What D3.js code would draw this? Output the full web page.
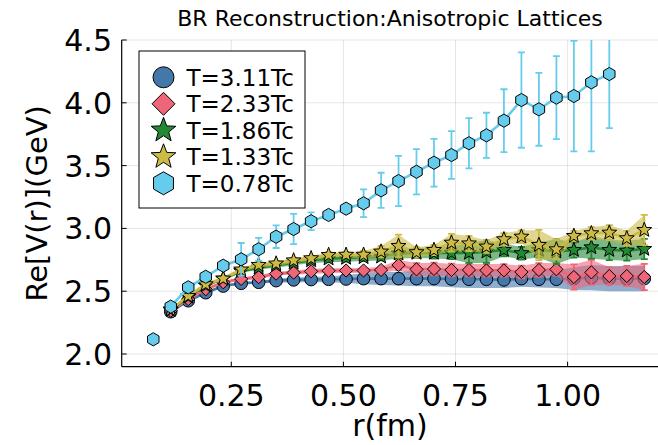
<!DOCTYPE html>
<html>
<head>
<meta charset="utf-8">
<script src="https://cdn.jsdelivr.net/npm/d3@7"></script>
<style>
body { margin: 0; background: #fff; }
text { font-family: "DejaVu Sans", sans-serif; fill: #000; }
</style>
</head>
<body>
<div id="chart"></div>
<script>
// r positions (fm)
const rVals = [0.076, 0.115, 0.154, 0.193, 0.232, 0.272, 0.311, 0.350, 0.389, 0.428,
  0.467, 0.506, 0.545, 0.584, 0.623, 0.663, 0.702, 0.741, 0.780, 0.819,
  0.858, 0.897, 0.936, 0.975, 1.014, 1.053, 1.093, 1.132, 1.171];

// T=3.11Tc (starts at rVals[1])
const v311 = [2.337, 2.424, 2.488, 2.541, 2.563, 2.571, 2.584, 2.590, 2.593, 2.595,
  2.597, 2.600, 2.600, 2.600, 2.600, 2.600, 2.597, 2.595, 2.595, 2.590,
  2.600, 2.595, 2.595, 2.600, 2.608, 2.600, 2.600, 2.600];
const e311 = [0.01, 0.01, 0.01, 0.01, 0.01, 0.01, 0.015, 0.02, 0.02, 0.025,
  0.03, 0.045, 0.05, 0.055, 0.06, 0.06, 0.065, 0.07, 0.07, 0.065,
  0.065, 0.065, 0.07, 0.09, 0.10, 0.10, 0.10, 0.10];

// T=2.33Tc
const v233 = [2.345, 2.437, 2.515, 2.571, 2.598, 2.612, 2.640, 2.648, 2.658, 2.663,
  2.665, 2.665, 2.669, 2.708, 2.674, 2.677, 2.669, 2.669, 2.666, 2.666,
  2.653, 2.669, 2.674, 2.613, 2.650, 2.621, 2.621, 2.613];
const e233 = [0.01, 0.01, 0.01, 0.01, 0.01, 0.015, 0.015, 0.015, 0.02, 0.02,
  0.02, 0.02, 0.025, 0.04, 0.05, 0.05, 0.05, 0.05, 0.05, 0.05,
  0.05, 0.055, 0.05, 0.10, 0.10, 0.07, 0.08, 0.105];

// T=1.86Tc
const v186 = [2.350, 2.455, 2.545, 2.600, 2.660, 2.688, 2.707, 2.726, 2.745, 2.760,
  2.765, 2.770, 2.775, 2.800, 2.805, 2.805, 2.805, 2.805, 2.815, 2.828,
  2.802, 2.828, 2.815, 2.828, 2.849, 2.828, 2.823, 2.836];
const e186 = [0.01, 0.01, 0.01, 0.015, 0.015, 0.015, 0.02, 0.02, 0.02, 0.03,
  0.03, 0.03, 0.03, 0.04, 0.04, 0.045, 0.05, 0.08, 0.09, 0.05,
  0.05, 0.06, 0.10, 0.06, 0.09, 0.08, 0.08, 0.08];

// T=1.33Tc
const v133 = [2.355, 2.462, 2.555, 2.600, 2.672, 2.709, 2.720, 2.745, 2.762, 2.788,
  2.790, 2.790, 2.815, 2.860, 2.810, 2.828, 2.886, 2.880, 2.855, 2.913,
  2.934, 2.868, 2.833, 2.940, 2.961, 2.966, 2.921, 2.987];
const e133 = [0.01, 0.01, 0.015, 0.015, 0.015, 0.02, 0.02, 0.02, 0.02, 0.02,
  0.02, 0.03, 0.045, 0.09, 0.04, 0.04, 0.07, 0.06, 0.05, 0.05,
  0.05, 0.12, 0.08, 0.04, 0.05, 0.06, 0.06, 0.12];

// T=0.78Tc (starts at rVals[0]; the first point stands alone)
const v078 = [2.117, 2.377, 2.531, 2.615, 2.703, 2.754, 2.834, 2.934, 2.995, 3.057,
  3.107, 3.157, 3.200, 3.303, 3.377, 3.451, 3.523, 3.584, 3.678, 3.741,
  3.858, 4.022, 3.948, 4.041, 4.054, 4.163, 4.229];
const e078 = [0, 0, 0.02, 0.02, 0.03, 0.13, 0.09, 0.09, 0.12, 0.07,
  0.02, 0.02, 0.11, 0.14, 0.20, 0.18, 0.19, 0.19, 0.20, 0.18,
  0.25, 0.38, 0.29, 0.33, 0.44, 0.55, 0.43];

const xTicks = [0.25, 0.50, 0.75, 1.00];
const yTicks = [2.0, 2.5, 3.0, 3.5, 4.0, 4.5];
const labels = ["T=3.11Tc", "T=2.33Tc", "T=1.86Tc", "T=1.33Tc", "T=0.78Tc"];
const colors = ["#4477AA", "#EE6677", "#228833", "#CCBB44", "#66CCEE"];

const W = 658, H = 445;
const pL = 121.7, pR = 658, pT = 40, pB = 366.7;

const x = d3.scaleLinear().domain([0.0056, 1.2016]).range([pL, pR]);
const y = d3.scaleLinear().domain([1.899, 4.5]).range([pB, pT]);

const svg = d3.select("#chart").append("svg")
  .attr("width", W).attr("height", H);

svg.append("clipPath").attr("id", "clip")
  .append("rect").attr("x", pL).attr("y", pT)
  .attr("width", pR - pL).attr("height", pB - pT);

// marker shapes, radius based
function shapePath(kind, s) {
  if (kind == "circle") {
    return `M${s},0A${s},${s},0,1,1,${-s},0A${s},${s},0,1,1,${s},0Z`;
  }
  if (kind == "diamond") return `M0,${-s}L${s},0L0,${s}L${-s},0Z`;
  let pts = [];
  if (kind == "star") {
    for (let i = 0; i < 10; i++) {
      const a = -Math.PI / 2 + i * Math.PI / 5;
      const rr = i % 2 == 0 ? s : s * 0.42;
      pts.push([rr * Math.cos(a), rr * Math.sin(a)]);
    }
  } else {
    for (let i = 0; i < 6; i++) {
      const a = -Math.PI / 2 + i * Math.PI / 3;
      pts.push([s * Math.cos(a), s * Math.sin(a)]);
    }
  }
  return "M" + pts.map(p => p[0].toFixed(2) + "," + p[1].toFixed(2)).join("L") + "Z";
}

// grid
const grid = svg.append("g");
grid.selectAll(".gx").data(xTicks).join("line")
  .attr("x1", d => x(d)).attr("x2", d => x(d))
  .attr("y1", pT).attr("y2", pB)
  .attr("stroke", "#000").attr("stroke-opacity", 0.1).attr("stroke-width", 1);
grid.selectAll(".gy").data(yTicks).join("line")
  .attr("x1", pL).attr("x2", pR)
  .attr("y1", d => y(d)).attr("y2", d => y(d))
  .attr("stroke", "#000").attr("stroke-opacity", 0.1).attr("stroke-width", 1);

const series = [
  { v: v311, e: e311, off: 1, skip: 0, shape: "circle", size: 6.3, ribbon: true, bars: false },
  { v: v233, e: e233, off: 1, skip: 0, shape: "diamond", size: 6.6, ribbon: true, bars: true },
  { v: v186, e: e186, off: 1, skip: 0, shape: "star", size: 7.8, ribbon: true, bars: true },
  { v: v133, e: e133, off: 1, skip: 0, shape: "star", size: 7.8, ribbon: true, bars: true },
  { v: v078, e: e078, off: 0, skip: 1, shape: "hex", size: 6.6, ribbon: false, bars: true }
];

const plot = svg.append("g").attr("clip-path", "url(#clip)");

series.forEach((s, k) => {
  const pts = s.v.map((v, i) => ({ r: rVals[i + s.off], v: v, e: s.e[i] }));
  const g = plot.append("g");
  const col = colors[k];

  if (s.bars) {
    const eb = g.append("g").attr("stroke", col).attr("stroke-width", 1.8);
    pts.filter(d => d.e > 0.015).forEach(d => {
      eb.append("line").attr("x1", x(d.r)).attr("x2", x(d.r))
        .attr("y1", y(d.v - d.e)).attr("y2", y(d.v + d.e));
      [d.v - d.e, d.v + d.e].forEach(yy => {
        eb.append("line").attr("x1", x(d.r) - 3.5).attr("x2", x(d.r) + 3.5)
          .attr("y1", y(yy)).attr("y2", y(yy));
      });
    });
  }

  if (s.ribbon) {
    g.append("path").datum(pts)
      .attr("d", d3.area().x(d => x(d.r)).y0(d => y(d.v - d.e)).y1(d => y(d.v + d.e)))
      .attr("fill", col).attr("fill-opacity", 0.6);
  }

  g.append("path").datum(pts.slice(s.skip))
    .attr("d", d3.line().x(d => x(d.r)).y(d => y(d.v)))
    .attr("fill", "none").attr("stroke", col).attr("stroke-width", 2.6);

  g.selectAll(".m").data(pts).join("path")
    .attr("transform", d => `translate(${x(d.r)},${y(d.v)})`)
    .attr("d", shapePath(s.shape, s.size))
    .attr("fill", col).attr("stroke", "#000").attr("stroke-width", 1);
});

// axes
const ax = svg.append("g").attr("stroke", "#000");
ax.append("line").attr("x1", pL).attr("x2", pR).attr("y1", pB).attr("y2", pB).attr("stroke-width", 1.2);
ax.append("line").attr("x1", pL).attr("x2", pL).attr("y1", pT).attr("y2", pB).attr("stroke-width", 1.2);
ax.selectAll(".tx").data(xTicks).join("line")
  .attr("x1", d => x(d)).attr("x2", d => x(d)).attr("y1", pB).attr("y2", pB - 5);
ax.selectAll(".ty").data(yTicks).join("line")
  .attr("x1", pL).attr("x2", pL + 5).attr("y1", d => y(d)).attr("y2", d => y(d));

svg.selectAll(".xl").data(xTicks).join("text")
  .attr("x", d => x(d)).attr("y", 406)
  .attr("text-anchor", "middle").attr("font-size", 30)
  .text(d => d.toFixed(2));
svg.selectAll(".yl").data(yTicks).join("text")
  .attr("x", 112).attr("y", d => y(d) + 11)
  .attr("text-anchor", "end").attr("font-size", 30)
  .text(d => d.toFixed(1));

svg.append("text").attr("x", 390).attr("y", 436)
  .attr("text-anchor", "middle").attr("font-size", 30).text("r(fm)");
svg.append("text")
  .attr("transform", `translate(47,${(pT + pB) / 2}) rotate(-90)`)
  .attr("text-anchor", "middle").attr("font-size", 29).text("Re[V(r)](GeV)");

svg.append("text").attr("x", 390).attr("y", 26)
  .attr("text-anchor", "middle").attr("font-size", 22)
  .text("BR Reconstruction:Anisotropic Lattices");

// legend
const leg = svg.append("g");
leg.append("rect").attr("x", 139).attr("y", 51).attr("width", 166).attr("height", 157)
  .attr("fill", "#fff").attr("stroke", "#000").attr("stroke-width", 1);
const legSizes = [10.5, 11.5, 13, 13, 11.5];
labels.forEach((lab, k) => {
  const cy = 77.3 + k * 26.5;
  leg.append("path").attr("transform", `translate(163.5,${cy})`)
    .attr("d", shapePath(series[k].shape, legSizes[k]))
    .attr("fill", colors[k]).attr("stroke", "#000").attr("stroke-width", 1);
  leg.append("text").attr("x", 186.5).attr("y", cy + 8.4)
    .attr("font-size", 23).text(lab);
});
</script>
</body>
</html>
